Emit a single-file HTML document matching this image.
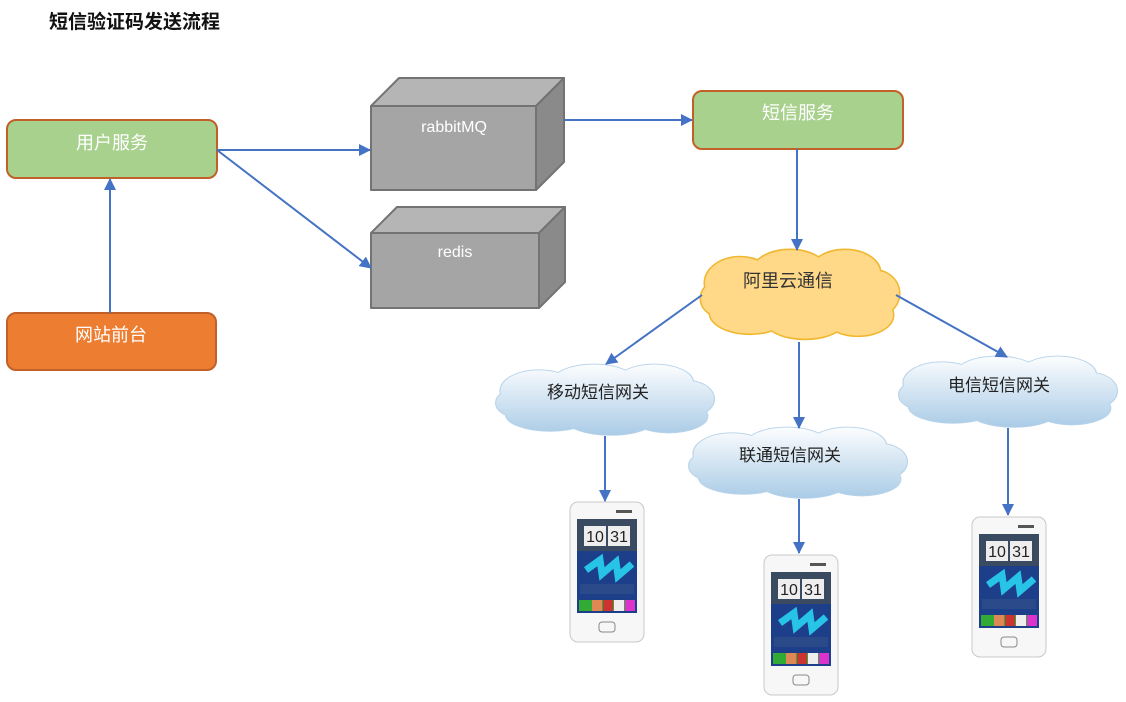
<!DOCTYPE html>
<html><head><meta charset="utf-8"><style>
html,body{margin:0;padding:0;background:#fff;width:1126px;height:702px;overflow:hidden}
text{font-family:"Liberation Sans","Noto Sans CJK SC",sans-serif}
</style></head><body>
<svg width="1126" height="702" viewBox="0 0 1126 702" xmlns="http://www.w3.org/2000/svg">
<defs>
<marker id="a" markerWidth="14" markerHeight="14" refX="11" refY="6" orient="auto" markerUnits="userSpaceOnUse">
<path d="M0,0 L12,6 L0,12 z" fill="#4472c4"/></marker>
<linearGradient id="bl" gradientUnits="userSpaceOnUse" x1="0" y1="0" x2="0" y2="90"><stop offset="0" stop-color="#ffffff"/><stop offset="1" stop-color="#a9cbe6"/></linearGradient>
<g id="cs"><ellipse cx="40" cy="35" rx="35" ry="25"/><ellipse cx="90" cy="25" rx="38" ry="22"/><ellipse cx="145" cy="25" rx="35" ry="22"/><ellipse cx="175" cy="45" rx="24" ry="22"/><ellipse cx="158" cy="66" rx="35" ry="20"/><ellipse cx="105" cy="70" rx="40" ry="19"/><ellipse cx="50" cy="64" rx="40" ry="20"/><ellipse cx="20" cy="50" rx="19" ry="17"/><ellipse cx="100" cy="45" rx="70" ry="30"/></g>
<g id="ph">
<rect x="0" y="0" width="74" height="140" rx="8" fill="#f7f7f7" stroke="#c8c8c8"/>
<rect x="46" y="8" width="16" height="3" fill="#555"/>
<rect x="7" y="17" width="60" height="94" fill="#1d3f8a"/>
<rect x="7" y="17" width="60" height="32" fill="#3a4a60"/>
<rect x="14" y="24" width="22" height="20" fill="#eee"/><rect x="38" y="24" width="22" height="20" fill="#eee"/>
<text x="25" y="40" font-size="16" text-anchor="middle" fill="#222">10</text><text x="49" y="40" font-size="16" text-anchor="middle" fill="#222">31</text>
<path d="M16,68 L30,58 L32,72 L46,60 L48,74 L62,62" stroke="#27c4e8" stroke-width="7" fill="none"/>
<rect x="10" y="82" width="54" height="10" fill="#2a4a8a"/>
<rect x="9" y="98" width="56" height="11" fill="#3a3"/><rect x="22" y="98" width="10" height="11" fill="#d85"/><rect x="33" y="98" width="10" height="11" fill="#c33"/><rect x="44" y="98" width="10" height="11" fill="#eee"/><rect x="55" y="98" width="10" height="11" fill="#d3c"/>
<rect x="29" y="120" width="16" height="10" rx="3" fill="none" stroke="#888"/>
</g>
</defs>

<text x="49" y="28" font-size="19" font-weight="bold" fill="#111">短信验证码发送流程</text>

<rect x="7" y="120" width="210" height="58" rx="9" fill="#a9d18e" stroke="#c0612a" stroke-width="2"/>
<text x="112" y="149" font-size="18" fill="#fff" text-anchor="middle">用户服务</text>
<rect x="7" y="313" width="209" height="57" rx="9" fill="#ed7d31" stroke="#c0612a" stroke-width="2"/>
<text x="111" y="341" font-size="18" fill="#fff" text-anchor="middle">网站前台</text>
<rect x="693" y="91" width="210" height="58" rx="9" fill="#a9d18e" stroke="#c0612a" stroke-width="2"/>
<text x="798" y="119" font-size="18" fill="#fff" text-anchor="middle">短信服务</text>

<g stroke="#737373" stroke-width="2" stroke-linejoin="round">
<polygon points="371,106 399,78 564,78 536,106" fill="#b5b5b5"/>
<polygon points="536,106 564,78 564,162 536,190" fill="#8a8a8a"/>
<rect x="371" y="106" width="165" height="84" fill="#a5a5a5"/>
<polygon points="371,233 397,207 565,207 539,233" fill="#b5b5b5"/>
<polygon points="539,233 565,207 565,282 539,308" fill="#8a8a8a"/>
<rect x="371" y="233" width="168" height="75" fill="#a5a5a5"/>
</g>
<text x="454" y="132" font-size="16" fill="#fff" text-anchor="middle">rabbitMQ</text>
<text x="455" y="257" font-size="16" fill="#fff" text-anchor="middle">redis</text>

<g transform="translate(700,247) scale(1,1.03)"><use href="#cs" fill="#f0b830" stroke="#f0b830" stroke-width="3"/><use href="#cs" fill="#ffd888"/></g>
<text x="788" y="287" font-size="18" fill="#333" text-anchor="middle">阿里云通信</text>
<g transform="translate(495,362) scale(1.1,0.82)"><use href="#cs" fill="#c9dff0" stroke="#b8d3ea" stroke-width="2"/><use href="#cs" fill="url(#bl)"/></g>
<text x="598" y="398" font-size="17" fill="#222" text-anchor="middle">移动短信网关</text>
<g transform="translate(688,425) scale(1.1,0.82)"><use href="#cs" fill="#c9dff0" stroke="#b8d3ea" stroke-width="2"/><use href="#cs" fill="url(#bl)"/></g>
<text x="790" y="461" font-size="17" fill="#222" text-anchor="middle">联通短信网关</text>
<g transform="translate(898,354) scale(1.1,0.82)"><use href="#cs" fill="#c9dff0" stroke="#b8d3ea" stroke-width="2"/><use href="#cs" fill="url(#bl)"/></g>
<text x="999" y="391" font-size="17" fill="#222" text-anchor="middle">电信短信网关</text>

<use href="#ph" transform="translate(570,502)"/>
<use href="#ph" transform="translate(764,555)"/>
<use href="#ph" transform="translate(972,517)"/>

<g stroke="#4472c4" stroke-width="2" fill="none" marker-end="url(#a)">
<line x1="217" y1="150" x2="370" y2="150"/>
<line x1="217" y1="150" x2="371" y2="268"/>
<line x1="110" y1="313" x2="110" y2="179"/>
<line x1="564" y1="120" x2="692" y2="120"/>
<line x1="797" y1="149" x2="797" y2="250"/>
<line x1="702" y1="295" x2="606" y2="364"/>
<line x1="799" y1="342" x2="799" y2="428"/>
<line x1="896" y1="295" x2="1007" y2="357"/>
<line x1="605" y1="436" x2="605" y2="501"/>
<line x1="799" y1="499" x2="799" y2="553"/>
<line x1="1008" y1="428" x2="1008" y2="515"/>
</g>
</svg>
</body></html>
